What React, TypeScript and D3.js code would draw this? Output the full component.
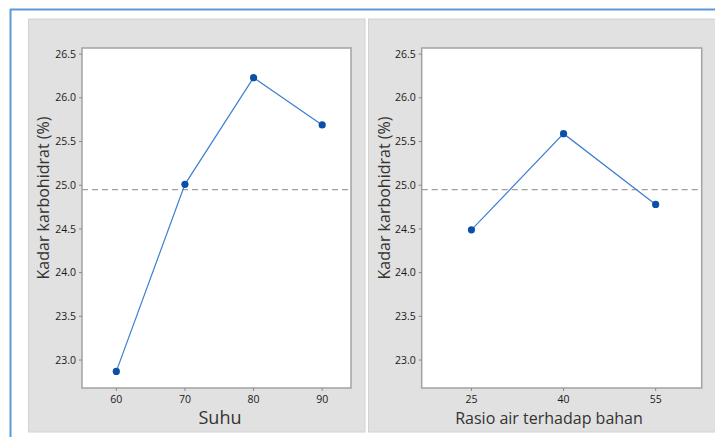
import React from "react";
import * as d3 from "d3";

const suhuLevels = [60, 70, 80, 90];
const suhuMeans = [22.87, 25.01, 26.23, 25.69];
const rasioLevels = [25, 40, 55];
const rasioMeans = [24.49, 25.59, 24.78];
const yTicks = [23.0, 23.5, 24.0, 24.5, 25.0, 25.5, 26.0, 26.5];
const grandMean = 24.95;
const yLabel = "Kadar karbohidrat (%)";
const xLabels = ["Suhu", "Rasio air terhadap bahan"];

const W = 715, H = 437;
const FONT = "'Open Sans', 'Noto Sans', sans-serif";

type PanelProps = {
  gx0: number; gx1: number;
  px0: number; px1: number;
  xDomain: [number, number];
  levels: number[]; means: number[];
  xTitle: string; xTitleSize: number; xTitleX: number;
  yTitleX: number;
};

const yScale = d3.scaleLinear().domain([22.68, 26.57]).range([388, 48]);

function Panel(p: PanelProps) {
  const x = d3.scaleLinear().domain(p.xDomain).range([p.px0, p.px1]);
  const line = d3.line<number>().x((_, i) => x(p.levels[i])).y((d) => yScale(d));
  const top = 48, bottom = 388;
  return (
    <g>
      <rect x={p.gx0} y={19} width={p.gx1 - p.gx0} height={413} fill="#e1e1e1" stroke="#d2d2d2" strokeWidth={1} />
      <rect x={p.px0} y={top} width={p.px1 - p.px0} height={bottom - top} fill="#ffffff" stroke="#a3a3a3" strokeWidth={1.5} />
      {yTicks.map((t) => (
        <g key={t}>
          <line x1={p.px0 - 3} x2={p.px0} y1={yScale(t)} y2={yScale(t)} stroke="#8a8a8a" />
          <text x={p.px0 - 6} y={yScale(t)} dy="0.35em" textAnchor="end" fontSize={10.5} fill="#1a1a1a" fontFamily={FONT}>
            {t.toFixed(1)}
          </text>
        </g>
      ))}
      {p.levels.map((l) => (
        <g key={l}>
          <line x1={x(l)} x2={x(l)} y1={bottom} y2={bottom + 3} stroke="#8a8a8a" />
          <text x={x(l)} y={bottom + 11.5} dy="0.35em" textAnchor="middle" fontSize={10.5} fill="#1a1a1a" fontFamily={FONT}>
            {l}
          </text>
        </g>
      ))}
      <text x={p.xTitleX} y={424} textAnchor="middle" fontSize={p.xTitleSize} fill="#333" fontFamily={FONT}>
        {p.xTitle}
      </text>
      <text transform={`translate(${p.yTitleX},198) rotate(-90)`} dy="0.35em" textAnchor="middle" fontSize={16} fill="#333" fontFamily={FONT}>
        {yLabel}
      </text>
      <line x1={p.px0} x2={p.px1} y1={yScale(grandMean)} y2={yScale(grandMean)} stroke="#a0a0a0" strokeWidth={1.3} strokeDasharray="6,4" />
      <path d={line(p.means) ?? ""} fill="none" stroke="#3c7fd0" strokeWidth={1.2} />
      {p.means.map((m, i) => (
        <circle key={i} cx={x(p.levels[i])} cy={yScale(m)} r={3.6} fill="#0b4fa8" />
      ))}
    </g>
  );
}

export default function App() {
  return (
    <svg width={W} height={H} style={{ position: "absolute", left: 0, top: 0, background: "#fff" }}>
      <rect x={0} y={0} width={W} height={H} fill="#ffffff" />
      <Panel gx0={28.5} gx1={365} px0={82} px1={351} xDomain={[55, 94.2]} levels={suhuLevels} means={suhuMeans} xTitle={xLabels[0]} xTitleSize={18} xTitleX={220} yTitleX={43} />
      <Panel gx0={368.5} gx1={716} px0={421.7} px1={701.7} xDomain={[16.9, 62.5]} levels={rasioLevels} means={rasioMeans} xTitle={xLabels[1]} xTitleSize={16} xTitleX={549} yTitleX={384} />
      <line x1={10} x2={W} y1={9.5} y2={9.5} stroke="#5b9bd5" strokeWidth={2} />
      <line x1={10.5} x2={10.5} y1={9} y2={H} stroke="#5b9bd5" strokeWidth={2} />
    </svg>
  );
}
